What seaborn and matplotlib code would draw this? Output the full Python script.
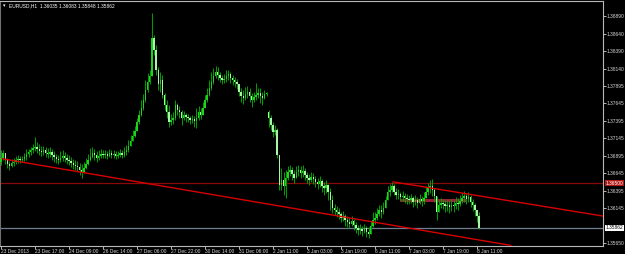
import numpy as np
import pandas as pd
import matplotlib
matplotlib.use("Agg")
import matplotlib.pyplot as plt
import matplotlib.transforms as mtransforms
import seaborn as sns

# ---------------- data (EURUSD H1) ----------------
close = [
    1.3686,1.3693,1.3683,1.3677,1.3675,1.3679,1.3680,1.3683,1.3685,1.3683,1.3685,1.3687,1.3692,1.3695,1.3698,1.3700,
    1.3702,1.3699,1.3696,1.3695,1.3698,1.3693,1.3692,1.3695,1.3690,1.3687,1.3685,1.3683,1.3686,1.3689,1.3686,1.3683,
    1.3682,1.3679,1.3676,1.3675,1.3673,1.3669,1.3666,1.3672,1.3677,1.3683,1.3687,1.3693,1.3690,1.3686,1.3689,1.3692,
    1.3690,1.3692,1.3689,1.3693,1.3690,1.3692,1.3689,1.3690,1.3693,1.3690,1.3695,1.3698,1.3703,1.3710,1.3718,1.3725,
    1.3738,1.3748,1.3758,1.3769,1.3783,1.3795,1.3803,1.3858,1.3841,1.3812,1.3792,1.3798,1.3776,1.3762,1.3752,1.3738,
    1.3740,1.3743,1.3762,1.3755,1.3752,1.3743,1.3748,1.3745,1.3743,1.3740,1.3742,1.3739,1.3743,1.3752,1.3748,1.3758,
    1.3769,1.3776,1.3786,1.3795,1.3803,1.3809,1.3805,1.3800,1.3798,1.3799,1.3803,1.3806,1.3800,1.3798,1.3795,1.3792,
    1.3780,1.3775,1.3772,1.3778,1.3780,1.3775,1.3769,1.3773,1.3776,1.3779,1.3775,1.3772,1.3778,1.3778,1.3743,1.3733,
    1.3723,1.3726,1.3690,1.3647,1.3655,1.3646,1.3657,1.3666,1.3669,1.3663,1.3657,1.3666,1.3669,1.3665,1.3667,1.3662,
    1.3657,1.3655,1.3659,1.3656,1.3652,1.3649,1.3653,1.3646,1.3643,1.3647,1.3637,1.3626,1.3615,1.3612,1.3609,1.3606,
    1.3600,1.3603,1.3597,1.3595,1.3592,1.3596,1.3590,1.3586,1.3583,1.3585,1.3582,1.3586,1.3580,1.3577,1.3589,1.3597,
    1.3600,1.3606,1.3612,1.3609,1.3615,1.3626,1.3637,1.3640,1.3646,1.3637,1.3633,1.3635,1.3630,1.3632,1.3629,1.3627,
    1.3626,1.3629,1.3623,1.3626,1.3622,1.3627,1.3625,1.3629,1.3637,1.3643,1.3646,1.3640,1.3632,1.3609,1.3619,1.3622,
    1.3620,1.3617,1.3619,1.3616,1.3619,1.3617,1.3622,1.3620,1.3625,1.3629,1.3632,1.3627,1.3630,1.3623,1.3619,1.3612,1.36035,1.35862,
]
high = [
    1.3698,1.3698,1.3692,1.3686,1.3682,1.3685,1.3686,1.3689,1.3690,1.3689,1.3689,1.3693,1.3699,1.3699,1.3702,1.3706,
    1.3716,1.3709,1.3706,1.3703,1.3703,1.3702,1.3700,1.3702,1.3699,1.3696,1.3692,1.3690,1.3696,1.3698,1.3695,1.3692,
    1.3690,1.3687,1.3685,1.3683,1.3682,1.3679,1.3677,1.3680,1.3686,1.3692,1.3700,1.3702,1.3699,1.3696,1.3698,1.3699,
    1.3698,1.3698,1.3696,1.3699,1.3698,1.3698,1.3696,1.3696,1.3699,1.3698,1.3702,1.3705,1.3712,1.3719,1.3726,1.3732,
    1.3743,1.3755,1.3769,1.3778,1.3798,1.3808,1.3812,1.3893,1.3862,1.3848,1.3816,1.3809,1.3805,1.3779,1.3769,1.3762,
    1.3749,1.3752,1.3769,1.3765,1.3760,1.3755,1.3753,1.3750,1.3749,1.3746,1.3748,1.3746,1.3758,1.3760,1.3758,1.3766,
    1.3776,1.3786,1.3798,1.3809,1.3815,1.3818,1.3816,1.3809,1.3805,1.3806,1.3812,1.3812,1.3809,1.3805,1.3802,1.3799,
    1.3789,1.3786,1.3783,1.3788,1.3789,1.3786,1.3779,1.3780,1.3793,1.3786,1.3786,1.3780,1.3783,1.3780,1.3755,1.3748,
    1.3738,1.3733,1.3729,1.3690,1.3672,1.3666,1.3669,1.3675,1.3676,1.3673,1.3669,1.3675,1.3676,1.3675,1.3676,1.3672,
    1.3666,1.3663,1.3666,1.3665,1.3660,1.3657,1.3660,1.3656,1.3652,1.3655,1.3649,1.3643,1.3633,1.3620,1.3617,1.3615,
    1.3609,1.3610,1.3606,1.3603,1.3600,1.3603,1.3599,1.3595,1.3590,1.3592,1.3589,1.3592,1.3589,1.3587,1.3596,1.3609,
    1.3609,1.3615,1.3619,1.3619,1.3623,1.3632,1.3646,1.3649,1.3652,1.3649,1.3643,1.3642,1.3637,1.3639,1.3636,1.3635,
    1.3633,1.3635,1.3632,1.3633,1.3630,1.3635,1.3632,1.3637,1.3646,1.3650,1.3655,1.3656,1.3643,1.3629,1.3626,1.3629,
    1.3627,1.3626,1.3626,1.3625,1.3627,1.3626,1.3630,1.3629,1.3633,1.3636,1.3639,1.3636,1.3637,1.3633,1.3627,1.3622,1.3612,1.36083,
]
low = [
    1.3676,1.3683,1.3677,1.3672,1.3669,1.3673,1.3675,1.3677,1.3679,1.3679,1.3680,1.3682,1.3683,1.3687,1.3690,1.3693,
    1.3696,1.3693,1.3690,1.3689,1.3690,1.3687,1.3686,1.3687,1.3683,1.3680,1.3679,1.3677,1.3680,1.3682,1.3680,1.3677,
    1.3676,1.3673,1.3670,1.3669,1.3667,1.3662,1.3657,1.3665,1.3670,1.3676,1.3682,1.3686,1.3683,1.3680,1.3683,1.3686,
    1.3686,1.3686,1.3685,1.3687,1.3686,1.3686,1.3685,1.3686,1.3687,1.3686,1.3687,1.3690,1.3695,1.3703,1.3710,1.3716,
    1.3724,1.3735,1.3746,1.3755,1.3766,1.3780,1.3792,1.3803,1.3833,1.3805,1.3783,1.3780,1.3772,1.3755,1.3743,1.3730,
    1.3733,1.3735,1.3740,1.3748,1.3743,1.3733,1.3740,1.3738,1.3738,1.3735,1.3736,1.3730,1.3729,1.3740,1.3742,1.3749,
    1.3760,1.3766,1.3775,1.3783,1.3792,1.3800,1.3798,1.3795,1.3792,1.3793,1.3795,1.3798,1.3793,1.3790,1.3788,1.3785,
    1.3775,1.3766,1.3763,1.3769,1.3772,1.3766,1.3759,1.3766,1.3769,1.3772,1.3765,1.3762,1.3770,1.3775,1.3730,1.3726,
    1.3716,1.3719,1.3686,1.3640,1.3640,1.3633,1.3629,1.3655,1.3660,1.3655,1.3650,1.3657,1.3660,1.3657,1.3659,1.3655,
    1.3650,1.3647,1.3652,1.3649,1.3645,1.3642,1.3645,1.3637,1.3633,1.3636,1.3626,1.3612,1.3607,1.3605,1.3602,1.3599,
    1.3595,1.3596,1.3589,1.3587,1.3586,1.3589,1.3583,1.3579,1.3576,1.3577,1.3575,1.3579,1.3573,1.3572,1.3580,1.3587,
    1.3592,1.3597,1.3603,1.3600,1.3606,1.3615,1.3626,1.3632,1.3637,1.3633,1.3627,1.3627,1.3625,1.3625,1.3622,1.3620,
    1.3620,1.3622,1.3616,1.3619,1.3615,1.3620,1.3617,1.3620,1.3629,1.3633,1.3636,1.3632,1.3623,1.3597,1.3609,1.3615,
    1.3613,1.3609,1.3610,1.3607,1.3610,1.3609,1.3613,1.3612,1.3617,1.3622,1.3623,1.3620,1.3623,1.3616,1.3610,1.3603,1.3595,1.35848,
]
first_open = 1.3680
gap_opens = {126: 1.3752, 225: 1.36035}

time_labels = ["23 Dec 2013", "23 Dec 17:00", "24 Dec 09:00", "26 Dec 14:00", "27 Dec 06:00",
               "27 Dec 22:00", "30 Dec 14:00", "31 Dec 06:00", "2 Jan 11:00", "3 Jan 03:00",
               "3 Jan 19:00", "6 Jan 11:00", "7 Jan 03:00", "7 Jan 19:00", "8 Jan 11:00"]
time_label_bars = [0, 16, 32, 48, 64, 80, 96, 112, 128, 144, 160, 176, 192, 208, 224]
price_ticks = [1.38890, 1.38640, 1.38390, 1.38140, 1.37895, 1.37645, 1.37395,
               1.37145, 1.36895, 1.36645, 1.36395, 1.36145, 1.35650]

level_price = 1.36500
bid_price = 1.35862
zone_bars = [187.8, 218.9]
zone_price = 1.3626
lower_trend_bars = [0.5, 240.0]
lower_trend_prices = [1.3685, 1.3561]
upper_trend_bars = [184.5, 283.3]
upper_trend_prices = [1.3652, 1.3603]

title = "EURUSD,H1  1.36035 1.36083 1.35848 1.35862"

# ---------------- build frame ----------------
n = len(close)
opens = [first_open] + close[:-1]
for k, v in gap_opens.items():
    opens[k] = v
df = pd.DataFrame({"bar": np.arange(n), "open": opens, "high": high, "low": low, "close": close})
df["high"] = df[["high", "open", "close"]].max(axis=1)
df["low"] = df[["low", "open", "close"]].min(axis=1)
df["bull"] = df["close"] >= df["open"]

sns.set_style("dark", {"axes.facecolor": "black", "figure.facecolor": "black"})
FONT = ["Liberation Sans", "DejaVu Sans"]
plt.rcParams["font.family"] = FONT
FS = 3.5

fig = plt.figure(figsize=(6.25, 2.54), dpi=100, facecolor="black")
ax = fig.add_axes([0.0, 8 / 254, 603 / 625, 245 / 254])
ax.set_facecolor("black")

# horizontal level lines (background)
ax.axhline(level_price, color="#8a0a0a", lw=0.9, zorder=1)
ax.axhline(bid_price, color="#6f7f8f", lw=0.9, zorder=1)
ax.plot(zone_bars, [zone_price, zone_price], color="#9c2038", lw=2.2, zorder=1.5,
        solid_capstyle="butt")

# candles
ax.vlines(df["bar"], df["low"], df["high"], color="#00a000", lw=0.7, zorder=2)
body_lo = df[["open", "close"]].min(axis=1)
body_h = (df["close"] - df["open"]).abs().clip(lower=0.00010)
bull = df["bull"]
ax.bar(df["bar"][bull], body_h[bull], bottom=body_lo[bull], width=0.7,
       color="#1ed21e", linewidth=0, zorder=3)
ax.bar(df["bar"][~bull], body_h[~bull], bottom=body_lo[~bull], width=0.7,
       color="#a8f4a8", linewidth=0, zorder=3)

# trend lines via seaborn
trend = pd.DataFrame({
    "bar": lower_trend_bars + upper_trend_bars,
    "price": lower_trend_prices + upper_trend_prices,
    "line": ["lower", "lower", "upper", "upper"],
})
sns.lineplot(data=trend, x="bar", y="price", units="line", estimator=None,
             color="#d80000", lw=1.0, ax=ax, zorder=4, legend=False)

ax.set_xlim(-0.47, 283.3)
ax.set_ylim(1.35602, 1.39106)
ax.set_xlabel("")
ax.set_ylabel("")
ax.grid(False)

# axes styling
for side in ["left", "top", "right", "bottom"]:
    ax.spines[side].set_visible(True)
    ax.spines[side].set_color("#b8b8b8")
    ax.spines[side].set_linewidth(0.8)
ax.spines["left"].set_color("#707070")

ax.yaxis.tick_right()
ax.set_yticks(price_ticks)
ax.set_yticklabels([f"{p:.5f}" for p in price_ticks])
ax.tick_params(axis="y", which="both", right=True, left=False, length=2.0, width=0.6,
               colors="#d8d8d8", labelsize=FS, pad=0.8, direction="out")
ax.set_xticks(time_label_bars)
ax.set_xticklabels(time_labels, ha="left")
ax.tick_params(axis="x", which="both", bottom=True, length=2.0, width=0.6,
               colors="#d8d8d8", labelsize=FS, pad=0.2, direction="out")
for lab in ax.get_xticklabels():
    lab.set_horizontalalignment("left")

# right-side price tags
trans = mtransforms.blended_transform_factory(ax.transAxes, ax.transData)
ax.text(1.0045, level_price, f"{level_price:.5f}", transform=trans, fontsize=FS,
        color="white", va="center", ha="left",
        bbox=dict(facecolor="#b01818", edgecolor="none", pad=0.5), clip_on=False, zorder=6)
ax.text(1.0045, bid_price, f"{bid_price:.5f}", transform=trans, fontsize=FS,
        color="black", va="center", ha="left",
        bbox=dict(facecolor="white", edgecolor="none", pad=0.5), clip_on=False, zorder=6)

# title
fig.text(3 / 625, 1 - 6 / 254, "\u25be", fontsize=FS, color="white", va="center",
         ha="left", family=["DejaVu Sans"])
fig.text(9 / 625, 1 - 6 / 254, title, fontsize=FS, color="white", va="center", ha="left")

fig.savefig("out.png", dpi=100, facecolor="black")
